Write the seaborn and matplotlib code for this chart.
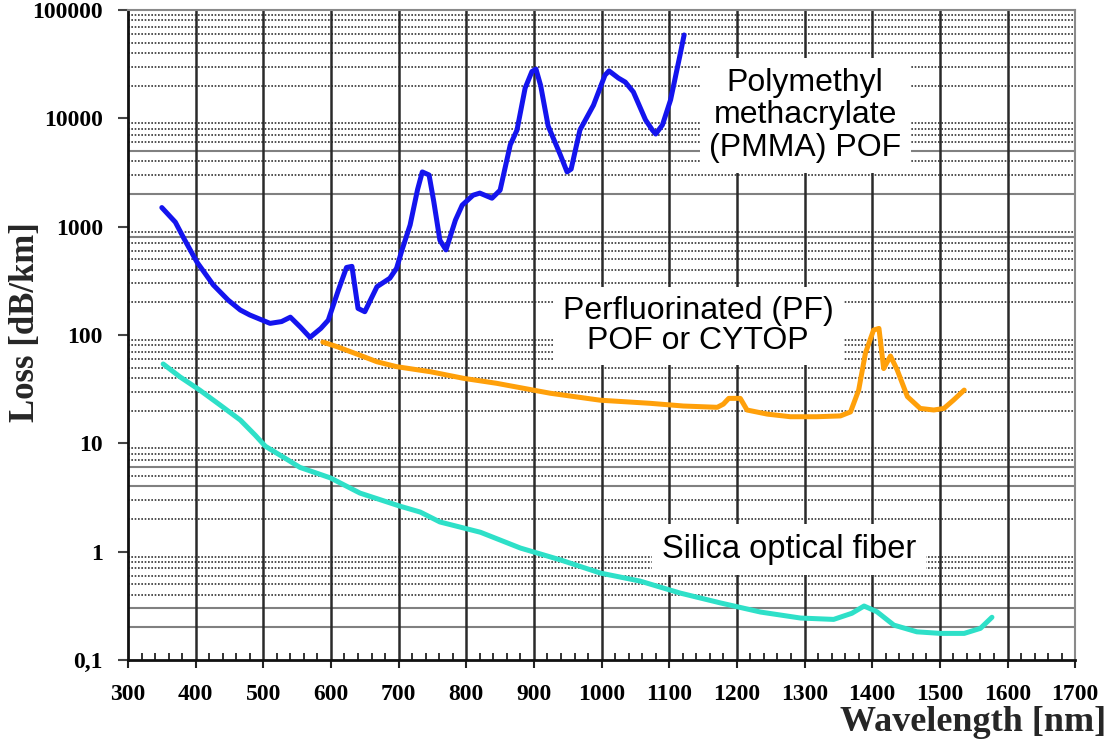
import numpy as np
import pandas as pd
import matplotlib
matplotlib.use("Agg")
import matplotlib.pyplot as plt
import seaborn as sns

# Attenuation spectra of three fibre types (wavelength in nm, loss in dB/km)
pmma_nm = [350, 370, 384, 402, 426, 448, 466, 480, 510, 527, 540, 555, 569, 585,
           596, 611, 623, 631, 640, 650, 668, 687, 697, 705, 717, 728, 735, 745,
           752, 761, 770, 784, 794, 810, 820, 838, 850, 865, 875, 887, 897, 903,
           910, 921, 939, 949, 955, 968, 988, 1005, 1011, 1025, 1035, 1047, 1065,
           1075, 1080, 1090, 1102, 1116, 1122]
pmma_loss = [1500, 1100, 750, 470, 290, 210, 170, 153, 128, 133, 146, 118, 95, 115,
             137, 260, 420, 430, 176, 164, 279, 334, 413, 609, 1036, 2200, 3200, 3000,
             1700, 750, 610, 1150, 1580, 1950, 2040, 1830, 2170, 5680, 7800, 19000,
             27000, 28500, 20000, 8500, 4600, 3200, 3400, 7800, 13200, 25000, 27400,
             23500, 21600, 17500, 9660, 7800, 7160, 8700, 14800, 38500, 58800]

pf_nm = [588, 609, 643, 668, 697, 747, 796, 845, 899, 924, 998, 1072, 1121, 1171,
         1180, 1188, 1205, 1215, 1245, 1279, 1318, 1353, 1368, 1380, 1390, 1402,
         1410, 1417, 1427, 1437, 1452, 1471, 1491, 1506, 1520, 1536]
pf_loss = [86, 78, 65, 56.6, 51, 45.8, 39.8, 35.8, 31, 29, 25, 23.4, 22.1, 21.5,
           23, 26, 26, 20.3, 18.6, 17.6, 17.6, 17.9, 19.5, 31, 68, 111, 115, 49, 64,
           47.5, 27, 21, 20.3, 21, 25, 31]

silica_nm = [352, 377, 406, 436, 466, 488, 503, 532, 554, 599, 643, 702, 732, 761,
             821, 880, 939, 998, 1057, 1116, 1176, 1235, 1294, 1343, 1370, 1388,
             1407, 1432, 1466, 1501, 1536, 1560, 1577]
silica_loss = [54, 41, 31, 22.6, 16.4, 11.9, 9.4, 7.3, 6.0, 4.8, 3.47, 2.63, 2.32,
               1.88, 1.51, 1.08, 0.84, 0.635, 0.535, 0.415, 0.336, 0.277, 0.244,
               0.237, 0.27, 0.315, 0.279, 0.21, 0.182, 0.176, 0.176, 0.196, 0.248]

series_names = ["PMMA", "PF", "Silica"]
series_colors = ["#1414ee", "#ffa00a", "#2ee0c8"]

x_ticks = list(range(300, 1800, 100))
y_ticks = [0.1, 1, 10, 100, 1000, 10000, 100000]
y_tick_labels = ["0,1", "1", "10", "100", "1000", "10000", "100000"]
solid_minor = [0.2, 0.3, 4, 6, 800, 2000, 5000]

df = pd.concat([
    pd.DataFrame({"nm": pmma_nm, "loss": pmma_loss, "fiber": "PMMA"}),
    pd.DataFrame({"nm": pf_nm, "loss": pf_loss, "fiber": "PF"}),
    pd.DataFrame({"nm": silica_nm, "loss": silica_loss, "fiber": "Silica"}),
], ignore_index=True)

sns.set_theme(style="white")
serif = ["Liberation Serif", "DejaVu Serif"]
sans = ["Liberation Sans", "DejaVu Sans"]

fig = plt.figure(figsize=(11.13, 7.44), dpi=100)
ax = fig.add_axes([0.115, 0.1129, 0.851, 0.8737])
ax.set_yscale("log")
ax.set_xlim(300, 1700)
ax.set_ylim(0.1, 100000)

# Minor horizontal grid: dotted, with a few solid rules
for dec in [0.1, 1, 10, 100, 1000, 10000]:
    for k in range(2, 10):
        v = dec * k
        if any(np.isclose(v, s) for s in solid_minor):
            ax.axhline(v, color="#808080", lw=1.5, ls="-", zorder=0.5)
        else:
            ax.axhline(v, color="#333333", lw=1.2, ls=(0, (1.0, 1.0)), zorder=0.5)
for xv in x_ticks[1:-1]:
    ax.axvline(xv, color="#2a2a2a", lw=1.8, zorder=0.6)

sns.lineplot(data=df, x="nm", y="loss", hue="fiber", hue_order=series_names,
             palette=series_colors, sort=False, estimator=None, legend=False,
             lw=3.6, ax=ax, zorder=3)
for ln in ax.get_lines():
    ln.set_solid_joinstyle("round")
    ln.set_solid_capstyle("round")

ax.set_xticks(x_ticks)
ax.set_xticklabels([str(v) for v in x_ticks])
ax.set_xticks(np.arange(300, 1701, 20), minor=True)
ax.set_yticks(y_ticks)
ax.set_yticklabels(y_tick_labels)
ax.yaxis.set_minor_locator(matplotlib.ticker.NullLocator())
ax.tick_params(axis="x", which="major", direction="out", length=6, width=1.5,
               color="#222222", pad=11, bottom=True)
ax.tick_params(axis="x", which="minor", direction="in", length=5, width=1.3,
               color="#222222", bottom=True)
ax.tick_params(axis="y", which="major", direction="out", length=7, width=1.5,
               color="#444444", pad=11, left=True)
for lbl in ax.get_xticklabels() + ax.get_yticklabels():
    lbl.set_fontfamily(serif)
    lbl.set_fontweight("bold")
    lbl.set_fontsize(17)
    lbl.set_color("black")

ax.set_xlabel("")
ax.set_ylabel("")
for side in ["left", "bottom"]:
    ax.spines[side].set_color("#111111")
    ax.spines[side].set_linewidth(2.0)
for side in ["top", "right"]:
    ax.spines[side].set_color("#8a8a8a")
    ax.spines[side].set_linewidth(1.5)

fig.text(0.994, 0.029, "Wavelength [nm]", ha="right", va="center",
         family=serif, weight="bold", fontsize=26)
fig.text(0.023, 0.567, "Loss [dB/km]", ha="center", va="center", rotation=90,
         family=serif, weight="bold", fontsize=25)

box = dict(boxstyle="square,pad=0.3", fc="white", ec="none")
ax.text(0.715, 0.838, "Polymethyl\nmethacrylate\n(PMMA) POF", transform=ax.transAxes,
        ha="center", va="center", family=sans, fontsize=23, linespacing=1.12,
        color="black", bbox=box, zorder=4)
ax.text(0.602, 0.514, "Perfluorinated (PF)\nPOF or CYTOP", transform=ax.transAxes,
        ha="center", va="center", family=sans, fontsize=23, linespacing=0.98,
        color="black", bbox=box, zorder=4)
ax.text(0.6975, 0.170, "Silica optical fiber", transform=ax.transAxes,
        ha="center", va="center", family=sans, fontsize=23.5,
        color="black", bbox=box, zorder=4)

fig.savefig("out.png", dpi=100, facecolor="white")
